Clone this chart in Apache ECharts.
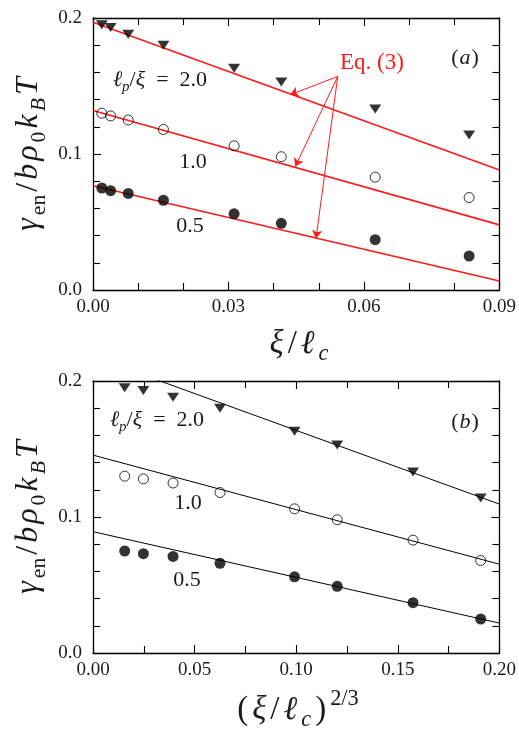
<!DOCTYPE html>
<html><head><meta charset="utf-8">
<script src="https://cdn.jsdelivr.net/npm/echarts@6/dist/echarts.min.js"></script>
<style>html,body{margin:0;padding:0;background:#fff}#c{width:519px;height:738px}</style>
</head><body><div id="c"></div>
<script>
// x values: panel (a) xi/l_c, panel (b) (xi/l_c)^(2/3)
const xA = [0.00195, 0.0039, 0.0078, 0.0156, 0.03125, 0.0417, 0.0625, 0.0833];
const xB = [0.0156, 0.0248, 0.0394, 0.0625, 0.0992, 0.1202, 0.1575, 0.1908];
// gamma_en / b rho0 kB T
const lp20 = [0.195, 0.193, 0.188, 0.180, 0.163, 0.153, 0.133, 0.114];
const lp10 = [0.130, 0.128, 0.125, 0.118, 0.106, 0.098, 0.083, 0.068];
const lp05 = [0.075, 0.073, 0.071, 0.066, 0.056, 0.049, 0.037, 0.025];
// Eq.(3) curves in panel (a): [x, y] end points
const eq20 = [[0, 0.1968], [0.09, 0.0883]];
const eq10 = [[0, 0.1320], [0.09, 0.0479]];
const eq05 = [[0, 0.0766], [0.09, 0.0066]];
// linear fits in panel (b)
const fit20 = [[0, 0.2179], [0.2, 0.1095]];
const fit10 = [[0, 0.1455], [0.2, 0.0653]];
const fit05 = [[0, 0.0892], [0.2, 0.0220]];
// arrows from "Eq. (3)" label
const arrowFrom = [0.0542, 0.157];
const arrowTo = [[0.0437, 0.1436], [0.0448, 0.0908], [0.0494, 0.0380]];
// axis ticks
const xTicksA = {min: 0, max: 0.09, interval: 0.03, minor: 3, digits: 2};
const xTicksB = {min: 0, max: 0.20, interval: 0.05, minor: 2, digits: 2};
const yTicks = {min: 0, max: 0.2, interval: 0.1, minor: 5, digits: 1};

const SERIF = "'Liberation Serif', 'DejaVu Serif', serif";
const INK = '#1a1a1a';
const RED = '#ff1a1a';

function axis(type, grid, t, position, showLabel) {
  const isX = type === 'x';
  return {
    type: 'value', gridIndex: grid, position: position,
    min: t.min, max: t.max, interval: t.interval,
    axisLine: {show: true, onZero: false, lineStyle: {color: '#000', width: 1.3}},
    axisTick: {show: true, inside: true, length: 8, lineStyle: {color: '#000', width: 1.1}},
    minorTick: {show: true, splitNumber: t.minor, length: 7, lineStyle: {color: '#000', width: 1.1}},
    splitLine: {show: false},
    minorSplitLine: {show: false},
    axisLabel: {
      show: showLabel, fontFamily: SERIF, fontSize: 19, color: INK,
      margin: isX ? 8 : 11,
      formatter: v => v.toFixed(t.digits)
    }
  };
}

const tri = {type: 'scatter', symbol: 'triangle', symbolRotate: 180, symbolSize: [12, 9],
  itemStyle: {color: '#000'}, z: 5};
const openC = {type: 'scatter', symbol: 'circle', symbolSize: 10,
  itemStyle: {color: 'rgba(255,255,255,0)', borderColor: '#000', borderWidth: 1}, z: 5};
const fillC = {type: 'scatter', symbol: 'circle', symbolSize: 11,
  itemStyle: {color: '#000'}, z: 5};

function pts(xs, ys) { return xs.map((x, i) => [x, ys[i]]); }

function lineS(data, xi, color, w, extra) {
  return Object.assign({type: 'line', xAxisIndex: xi, yAxisIndex: xi, data: data,
    symbol: 'none', silent: true, clip: true,
    lineStyle: {color: color, width: w}, z: 3}, extra || {});
}

const rich = (size, pad) => {
  const p = [0, pad || 0];
  const sub = size * 0.68;
  return {
    i: {fontFamily: SERIF, fontStyle: 'italic', fontSize: size, lineHeight: size * 1.3, fill: INK, padding: p},
    n: {fontFamily: SERIF, fontSize: size, lineHeight: size * 1.3, fill: INK, padding: p},
    s: {fontFamily: SERIF, fontSize: sub, lineHeight: sub, verticalAlign: 'bottom', fill: INK, padding: p},
    si: {fontFamily: SERIF, fontStyle: 'italic', fontSize: sub, lineHeight: sub, verticalAlign: 'bottom', fill: INK, padding: p},
    sup: {fontFamily: SERIF, fontSize: sub, lineHeight: sub, verticalAlign: 'top', fill: INK, padding: p},
    r: {fontFamily: SERIF, fontSize: size, lineHeight: size * 1.3, fill: RED}
  };
};

function txt(x, y, text, size, opts) {
  opts = opts || {};
  return Object.assign({type: 'text', x: x, y: y, silent: true, z: 10,
    style: {text: text, rich: rich(size, opts.pad), align: 'center', verticalAlign: 'middle'}},
    opts.el || {});
}

const yLabel = '{i|γ}{s|en}{n|/}{i|b}{i|ρ}{s|0}{i|k}{si|B}{i|T}';

const option = {
  animation: false,
  backgroundColor: '#fff',
  grid: [
    {left: 93, right: 18, top: 18, height: 272},
    {left: 93, right: 18, top: 381, height: 272}
  ],
  xAxis: [
    axis('x', 0, xTicksA, 'bottom', true),
    axis('x', 0, xTicksA, 'top', false),
    axis('x', 1, xTicksB, 'bottom', true),
    axis('x', 1, xTicksB, 'top', false)
  ],
  yAxis: [
    axis('y', 0, yTicks, 'left', true),
    axis('y', 0, yTicks, 'right', false),
    axis('y', 1, yTicks, 'left', true),
    axis('y', 1, yTicks, 'right', false)
  ],
  series: [
    lineS(eq20, 0, RED, 1.6, {markLine: {
      silent: true, symbol: ['none', 'arrow'], symbolSize: 8, animation: false,
      label: {show: false},
      lineStyle: {color: RED, width: 1, type: 'solid'},
      data: arrowTo.map(p => [{coord: arrowFrom}, {coord: p}])
    }}),
    lineS(eq10, 0, RED, 1.6),
    lineS(eq05, 0, RED, 1.6),
    Object.assign({}, tri, {xAxisIndex: 0, yAxisIndex: 0, data: pts(xA, lp20)}),
    Object.assign({}, openC, {xAxisIndex: 0, yAxisIndex: 0, data: pts(xA, lp10)}),
    Object.assign({}, fillC, {xAxisIndex: 0, yAxisIndex: 0, data: pts(xA, lp05)}),
    lineS(fit20, 2, '#000', 1),
    lineS(fit10, 2, '#000', 1),
    lineS(fit05, 2, '#000', 1),
    Object.assign({}, tri, {xAxisIndex: 2, yAxisIndex: 2, data: pts(xB, lp20)}),
    Object.assign({}, openC, {xAxisIndex: 2, yAxisIndex: 2, data: pts(xB, lp10)}),
    Object.assign({}, fillC, {xAxisIndex: 2, yAxisIndex: 2, data: pts(xB, lp05)})
  ],
  graphic: [
    // panel (a)
    txt(29, 154, yLabel, 32, {pad: 1.5, el: {rotation: Math.PI / 2}}),
    txt(299, 344, '{i|ξ}{n|/}{i|ℓ}{si|c}', 33, {pad: 2}),
    txt(160, 80, '{i|ℓ}{si|p}{n|/}{i|ξ}{n|  =  2.0}', 22),
    txt(193, 162, '{n|1.0}', 22),
    txt(190, 226, '{n|0.5}', 22),
    txt(372, 63, '{r|Eq. (3)}', 23),
    txt(465, 58, '{n|(}{i|a}{n|)}', 22, {pad: 0.5}),
    // panel (b)
    txt(29, 517, yLabel, 32, {pad: 1.5, el: {rotation: Math.PI / 2}}),
    txt(298, 710, '{n|(}{i|ξ}{n|/}{i|ℓ}{si|c}{n|)}{sup|2/3}', 33, {pad: 2}),
    txt(157, 420, '{i|ℓ}{si|p}{n|/}{i|ξ}{n|  =  2.0}', 22),
    txt(188, 503, '{n|1.0}', 22),
    txt(187, 580, '{n|0.5}', 22),
    txt(465, 422, '{n|(}{i|b}{n|)}', 22, {pad: 0.5})
  ]
};

const chart = echarts.init(document.getElementById('c'), null, {renderer: 'canvas'});
chart.setOption(option);
</script>
</body></html>
